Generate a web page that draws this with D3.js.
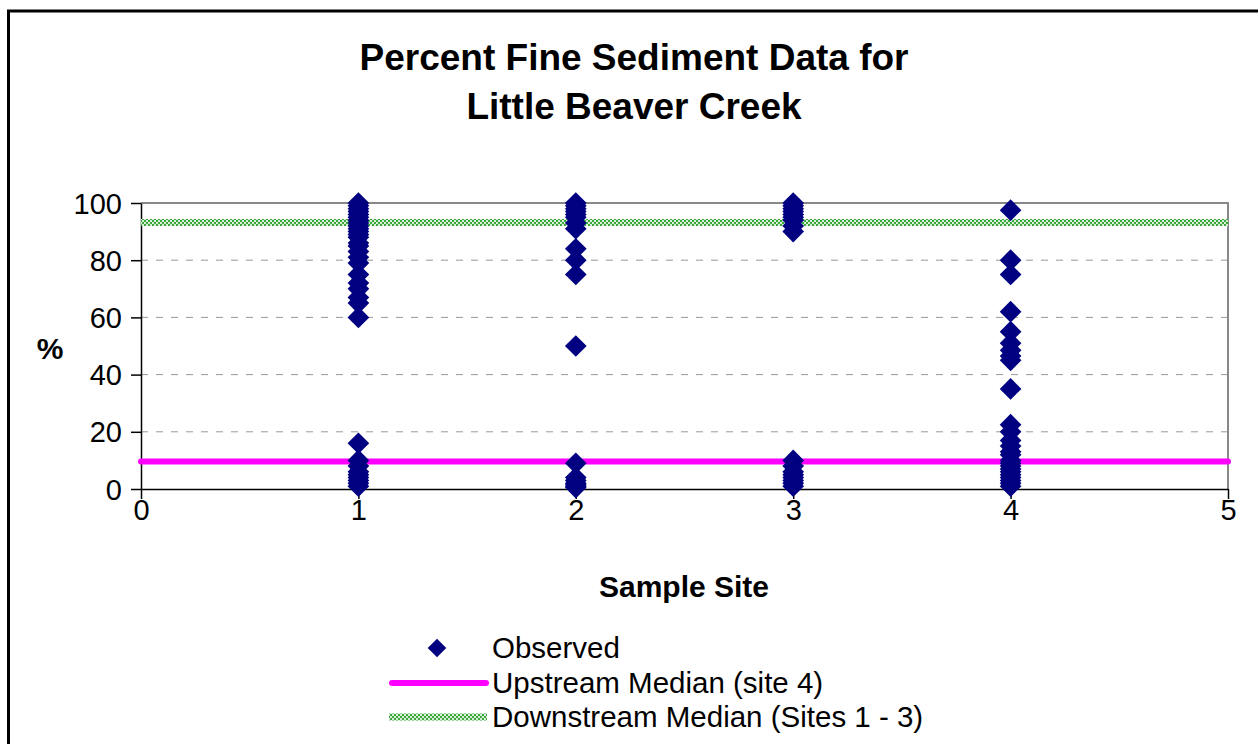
<!DOCTYPE html>
<html>
<head>
<meta charset="utf-8">
<script src="https://d3js.org/d3.v7.min.js"></script>
<style>
  html, body { margin: 0; padding: 0; background: #fff; }
  svg { display: block; font-family: Arial, "Liberation Sans", sans-serif; }
</style>
</head>
<body>
<div id="chart"></div>
<script>
// observed percent fine sediment, one array per site
const site1Values = [100, 99, 98, 97, 96, 95, 94, 93, 92, 91, 90, 89, 88, 86, 85, 83, 81, 79, 75, 72, 70, 67, 65, 60,
                     16, 10, 8, 6, 5, 4, 3, 2, 1];
const site2Values = [100, 99, 98, 97, 96, 95, 93, 91, 84, 80, 75, 50, 9, 4, 3, 2, 1.5, 1, 0.5];
const site3Values = [100, 99, 98, 97, 96, 95, 94, 92, 90, 10, 8, 6, 5, 4, 3, 2, 1];
const site4Values = [97.5, 80, 75, 62, 55, 51, 48.5, 46.5, 45, 35, 22.5, 20, 17, 15, 13, 12, 10, 9, 8, 7, 6, 5, 4, 3, 2, 1];
const sites = [1, 2, 3, 4];

const upstreamMedian = 9.6;
const downstreamMedian = 93.2;

const xTicks = [0, 1, 2, 3, 4, 5];
const yTicks = [0, 20, 40, 60, 80, 100];

const titleLines = ['Percent Fine Sediment Data for', 'Little Beaver Creek'];
const legendLabels = ['Observed', 'Upstream Median (site 4)', 'Downstream Median (Sites 1 - 3)'];

const W = 1258, H = 744;
const plot = { left: 141, right: 1228, top: 203, bottom: 489 };

const svg = d3.select('#chart').append('svg')
    .attr('width', W)
    .attr('height', H);

// green checker pattern used by the downstream median line
const defs = svg.append('defs');
const pat = defs.append('pattern')
    .attr('id', 'greenDots')
    .attr('patternUnits', 'userSpaceOnUse')
    .attr('width', 4).attr('height', 4);
pat.append('rect').attr('width', 4).attr('height', 4).attr('fill', '#d8eed8');
pat.append('rect').attr('x', 0).attr('y', 0).attr('width', 2).attr('height', 2).attr('fill', '#3aa83a');
pat.append('rect').attr('x', 2).attr('y', 2).attr('width', 2).attr('height', 2).attr('fill', '#3aa83a');

// outer chart border (runs off right and bottom)
svg.append('rect')
    .attr('x', 8.5).attr('y', 11)
    .attr('width', W + 20).attr('height', H + 20)
    .attr('fill', 'none')
    .attr('stroke', '#000')
    .attr('stroke-width', 3);

const x = d3.scaleLinear().domain([0, 5]).range([plot.left, plot.right]);
const y = d3.scaleLinear().domain([0, 100]).range([plot.bottom, plot.top]);

// gridlines
svg.append('g')
    .selectAll('line')
    .data(yTicks.filter(d => d > 0 && d < 100))
    .enter()
    .append('line')
    .attr('x1', plot.left).attr('x2', plot.right)
    .attr('y1', d => y(d)).attr('y2', d => y(d))
    .attr('stroke', '#999')
    .attr('stroke-width', 1)
    .attr('stroke-dasharray', '7,8');

// plot frame: top and right gray
svg.append('path')
    .attr('d', `M${plot.left},${y(100)}H${plot.right}V${plot.bottom}`)
    .attr('fill', 'none')
    .attr('stroke', '#888')
    .attr('stroke-width', 2);

// axes
const xAxis = d3.axisBottom(x).tickValues(xTicks).tickSize(10).tickSizeOuter(0).tickFormat(d3.format('d'));
const yAxis = d3.axisLeft(y).tickValues(yTicks).tickSize(10).tickSizeOuter(0).tickFormat(d3.format('d'));

const gx = svg.append('g')
    .attr('transform', `translate(0,${plot.bottom})`)
    .call(xAxis);
const gy = svg.append('g')
    .attr('transform', `translate(${plot.left},0)`)
    .call(yAxis);

[gx, gy].forEach(g => {
    g.select('.domain').attr('stroke', '#000').attr('stroke-width', 1.5);
    g.selectAll('.tick line').attr('stroke', '#000').attr('stroke-width', 1.5);
    g.selectAll('.tick text')
        .attr('font-size', '29px')
        .attr('font-family', 'Arial, "Liberation Sans", sans-serif')
        .attr('fill', '#000');
});
gx.selectAll('.tick text').attr('y', 31).attr('dy', 0);
gy.selectAll('.tick text').attr('x', -19).attr('dy', '0.35em');

// median lines
svg.append('line')
    .attr('x1', x(0)).attr('x2', x(5))
    .attr('y1', y(downstreamMedian)).attr('y2', y(downstreamMedian))
    .attr('stroke', 'url(#greenDots)')
    .attr('stroke-width', 7);

svg.append('line')
    .attr('x1', x(0)).attr('x2', x(5))
    .attr('y1', y(upstreamMedian)).attr('y2', y(upstreamMedian))
    .attr('stroke', '#ff00ff')
    .attr('stroke-width', 6)
    .attr('stroke-linecap', 'round');

// observed points
const siteValues = [site1Values, site2Values, site3Values, site4Values];
const points = [];
sites.forEach((s, i) => siteValues[i].forEach(v => points.push({ site: s, value: v })));

const diamond = d3.symbol().type(d3.symbolDiamond2).size(300);
svg.append('g')
    .selectAll('path')
    .data(points)
    .enter()
    .append('path')
    .attr('d', diamond)
    .attr('transform', d => `translate(${x(d.site)},${y(d.value)})`)
    .attr('fill', '#000080');

// title
svg.append('text')
    .attr('x', 634)
    .attr('y', 70)
    .attr('text-anchor', 'middle')
    .attr('font-size', '37px')
    .attr('font-weight', 'bold')
    .selectAll('tspan')
    .data(titleLines)
    .enter()
    .append('tspan')
    .attr('x', 634)
    .attr('dy', (d, i) => i === 0 ? 0 : 49)
    .text(d => d);

// axis titles
svg.append('text')
    .attr('x', 684).attr('y', 597)
    .attr('text-anchor', 'middle')
    .attr('font-size', '30px')
    .attr('font-weight', 'bold')
    .text('Sample Site');

svg.append('text')
    .attr('x', 50).attr('y', 359)
    .attr('text-anchor', 'middle')
    .attr('font-size', '30px')
    .attr('font-weight', 'bold')
    .text('%');

// legend
const legend = svg.append('g');
const legendY = [648, 683, 717];
legend.append('path')
    .attr('d', d3.symbol().type(d3.symbolDiamond2).size(220))
    .attr('transform', `translate(437,${legendY[0]})`)
    .attr('fill', '#000080');
legend.append('line')
    .attr('x1', 392).attr('x2', 486)
    .attr('y1', legendY[1]).attr('y2', legendY[1])
    .attr('stroke', '#ff00ff')
    .attr('stroke-width', 6)
    .attr('stroke-linecap', 'round');
legend.append('line')
    .attr('x1', 389).attr('x2', 487)
    .attr('y1', legendY[2]).attr('y2', legendY[2])
    .attr('stroke', 'url(#greenDots)')
    .attr('stroke-width', 7);
legend.selectAll('text')
    .data(legendLabels)
    .enter()
    .append('text')
    .attr('x', 492)
    .attr('y', (d, i) => legendY[i])
    .attr('dy', '0.35em')
    .attr('font-size', '29.5px')
    .text(d => d);
</script>
</body>
</html>
